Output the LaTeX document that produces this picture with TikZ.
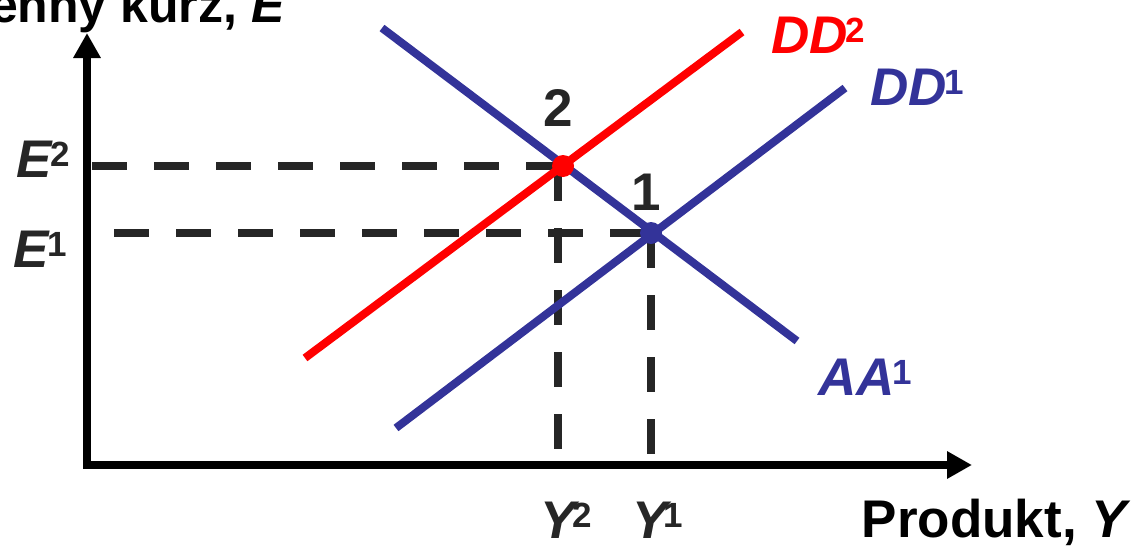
\documentclass[tikz,border=0pt]{standalone}
\usepackage{fontspec}
\setmainfont{Liberation Sans}
\usetikzlibrary{arrows.meta}
\definecolor{cblue}{RGB}{51,51,153}
\definecolor{cred}{RGB}{255,0,0}
\definecolor{cdark}{RGB}{38,38,38}
\newcommand\supnum[2][-2pt]{\kern#1\raisebox{11pt}{\fontsize{35}{35}\selectfont\upshape #2}}
\begin{document}
\begin{tikzpicture}[x=1pt,y=-1pt,
  lbl/.style={font=\fontsize{53}{60}\selectfont\bfseries, inner sep=0pt},
  axisline/.style={line width=8pt, black, line join=miter,
    {Triangle[length=25pt,width=26pt]}-{Triangle[length=25pt,width=26pt]}},
  guide/.style={line width=8pt, cdark, dash pattern=on 35pt off 27pt},
  curve/.style={line width=8pt},
  dot/.style={circle, inner sep=0pt, minimum size=22pt}]
\useasboundingbox (0,0) rectangle (1135,546);
\clip (0,0) rectangle (1135,546);

% axes
\coordinate (ytip) at (87,33);
\coordinate (corner) at (87,465);
\coordinate (xtip) at (972,465);
\draw[axisline] (ytip) -- (corner) -- (xtip);

% equilibrium points
\coordinate (p2) at (563,166);
\coordinate (p1) at (651,233);

% dashed guides
\coordinate (e2start) at (92,166);
\coordinate (e1start) at (114,233);
\coordinate (y2top) at (558,166);
\coordinate (y2bot) at (558,452);
\coordinate (y1bot) at (651,456);
\draw[guide] (e2start) -- (p2);
\draw[guide] (e1start) -- (p1);
\draw[guide] (y2top) -- (y2bot);
\draw[guide] (p1) -- (y1bot);

% curves
\coordinate (aaA) at (382,28);
\coordinate (aaB) at (797,341);
\coordinate (dd1A) at (396,428);
\coordinate (dd1B) at (845,88);
\coordinate (dd2A) at (305,358);
\coordinate (dd2B) at (742,32);
\draw[curve, cblue] (aaA) -- (aaB);
\draw[curve, cblue] (dd1A) -- (dd1B);
\draw[curve, cred] (dd2A) -- (dd2B);

\node[dot, fill=cred] (P2) at (p2) {};
\node[dot, fill=cblue] (P1) at (p1) {};

% labels
\node[lbl, font=\fontsize{50}{56}\selectfont\bfseries, anchor=base east] (title) at (286,22) {Výmenný kurz, \textit{E}};
\node[lbl, cdark, anchor=base] (n2) at (558,126) {2};
\node[lbl, cdark, anchor=base] (n1) at (646,210) {1};
\node[lbl, cred, anchor=base west] (ldd2) at (771,53) {\textit{DD}\supnum{2}};
\node[lbl, cblue, anchor=base west] (ldd1) at (870,105) {\textit{DD}\supnum{1}};
\node[lbl, cblue, anchor=base west] (laa1) at (818,395) {\textit{AA}\supnum{1}};
\node[lbl, cdark, anchor=base west] (le2) at (16,177) {\textit{E}\supnum{2}};
\node[lbl, cdark, anchor=base west] (le1) at (13,267) {\textit{E}\supnum{1}};
\node[lbl, cdark, anchor=base west] (ly2) at (540,538) {\textit{Y}\supnum[-7pt]{2}};
\node[lbl, cdark, anchor=base west] (ly1) at (632,538) {\textit{Y}\supnum[-8pt]{1}};
\node[lbl, black, anchor=base east] (lprod) at (1131,537) {Produkt, \textit{Y}};
\end{tikzpicture}
\end{document}
